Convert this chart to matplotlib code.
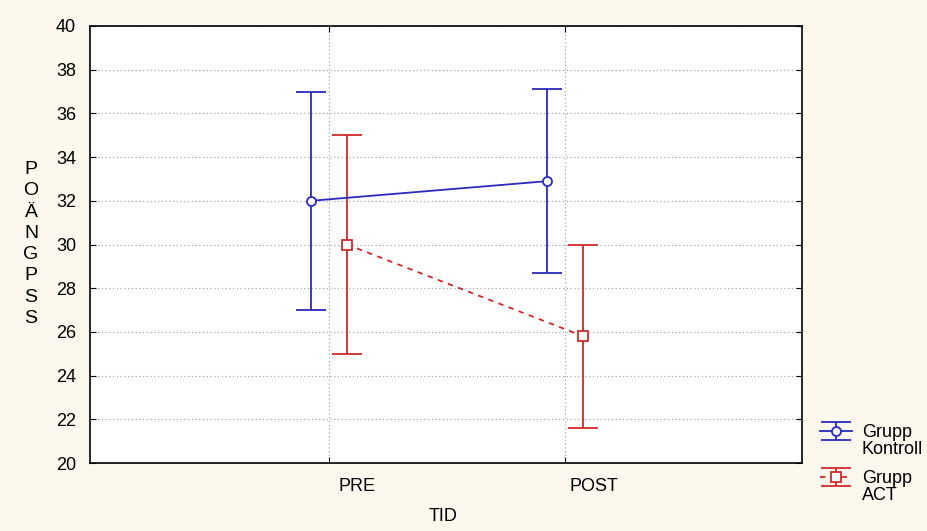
import matplotlib
matplotlib.use("Agg")
import matplotlib.pyplot as plt
import matplotlib.transforms as mtransforms
import numpy as np

categories = ["PRE", "POST"]
kontroll_mean = [32.0, 32.9]
kontroll_low = [27.0, 28.7]
kontroll_high = [37.0, 37.1]
act_mean = [30.0, 25.8]
act_low = [25.0, 21.6]
act_high = [35.0, 30.0]
legend_first = ["Grupp", "Grupp"]
legend_second = ["Kontroll", "ACT"]
yticks = [20, 22, 24, 26, 28, 30, 32, 34, 36, 38, 40]

plt.rcParams['font.family'] = ['Liberation Sans', 'DejaVu Sans']

fig = plt.figure(figsize=(9.28, 5.31), dpi=100)
fig.patch.set_facecolor('#FCF8EE')
ax = fig.add_axes([90/928, 1-463/531, (802-90)/928, (463-26)/531])
ax.set_facecolor('white')

x = np.arange(len(categories))
off = 0.076
blue = '#2A2ABF'
red = '#D22A2A'

km = np.array(kontroll_mean); am = np.array(act_mean)
kerr = [km - np.array(kontroll_low), np.array(kontroll_high) - km]
aerr = [am - np.array(act_low), np.array(act_high) - am]

h1 = ax.errorbar(x - off, km, yerr=kerr, color=blue, lw=1.3, marker='o', ms=6.5,
                 mfc='white', mec=blue, mew=1.3, capsize=11, capthick=1.3,
                 zorder=3)
h2 = ax.errorbar(x + off, am, yerr=aerr, color=red, lw=1.3, marker='s', ms=6.5,
                 mfc='white', mec=red, mew=1.3, capsize=11, capthick=1.3,
                 ls=(0, (3, 3)), zorder=3)
for c in h2.lines[2]:
    c.set_linestyle('-')

ax.set_xlim(-1.01, 2.0)
ax.set_ylim(20, 40)
# major ticks: tick marks + gridlines; minor ticks: labels (shifted right as in reference)
ax.set_xticks(x)
ax.set_xticklabels([])
ax.set_xticks(x + 0.119, minor=True)
ax.set_xticklabels(categories, minor=True, fontsize=13)
ax.tick_params(axis='x', which='minor', length=0, pad=11)
ax.set_yticks(yticks)
ax.tick_params(axis='y', labelsize=13, direction='in', length=4, right=True, pad=10)
ax.tick_params(axis='x', which='major', direction='in', length=4, top=True)
ax.grid(True, which='major', color='#A8A8A8', ls=(0, (1, 2)), lw=0.9)
for s in ax.spines.values():
    s.set_linewidth(1.2)
    s.set_color('black')

ax.set_xlabel("TID", fontsize=13, labelpad=9)
ax.xaxis.label.set_x((443-90)/712)
fig.text(31/928, 1-244/531, "P\nO\nÄ\nN\nG\nP\nS\nS", fontsize=14,
         ha='center', va='center', linespacing=1.33)

leg = fig.legend(handles=[h1, h2], labels=legend_first, loc='upper left',
                 bbox_to_anchor=(820/928, 1-424/531), frameon=False, fontsize=13,
                 handlelength=1.77, labelspacing=1.62, handletextpad=0.55,
                 borderpad=0, borderaxespad=0)

fig.canvas.draw()
for t, second in zip(leg.get_texts(), legend_second):
    bb = t.get_window_extent()
    fig.text(bb.x0, bb.y0 - 17, second, fontsize=13, ha='left', va='bottom',
             transform=mtransforms.IdentityTransform())

fig.savefig("out.png", dpi=100, facecolor=fig.get_facecolor())
